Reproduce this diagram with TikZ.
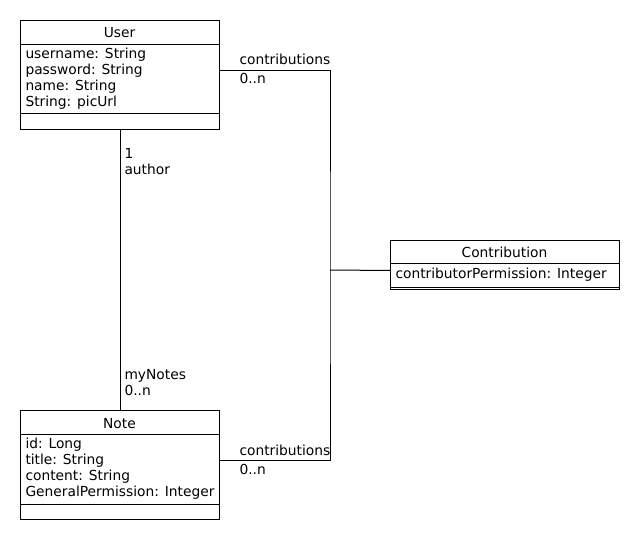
\documentclass[tikz,border=0pt]{standalone}
\usepackage{fontspec}
\setmainfont{DejaVu Sans}
\begin{document}
\begin{tikzpicture}[x=1pt, y=-1pt, line width=1pt,
        classbox/.style = {draw, rectangle,
            inner sep=0pt,
            anchor=north west,
            minimum width=199pt},
        txt/.style = {inner sep=0pt, font=\fontsize{13.8}{16}\selectfont},
        attr/.style = {txt, anchor=base west},
        title/.style = {txt, anchor=base}]

        \useasboundingbox (0,0) rectangle (640,540);

        % User class
        \node[classbox, minimum height=109pt] (user) at (20,20) {};
        \node[title] (userTitle) at (119.5,38) {User};
        \draw ([yshift=-25pt]user.north west) -- ([yshift=-25pt]user.north east);
        \draw ([yshift=16pt]user.south west) -- ([yshift=16pt]user.south east);
        \foreach \i/\t in {0/username: String, 1/password: String,
                2/name: String, 3/String: picUrl}
            \node[attr] (userAttr\i) at (25,58.5+16*\i) {\t};

        % Note class
        \node[classbox, minimum height=109pt] (note) at (20,410) {};
        \node[title] (noteTitle) at (119.5,428) {Note};
        \draw ([yshift=-24pt]note.north west) -- ([yshift=-24pt]note.north east);
        \draw ([yshift=16pt]note.south west) -- ([yshift=16pt]note.south east);
        \foreach \i/\t in {0/id: Long, 1/title: String,
                2/content: String, 3/GeneralPermission: Integer}
            \node[attr] (noteAttr\i) at (25,448.5+16*\i) {\t};

        % Contribution class
        \node[classbox, minimum width=229pt, minimum height=49pt] (contrib) at (390,240) {};
        \node[title] (contribTitle) at (504.5,258) {Contribution};
        \draw ([yshift=-24pt]contrib.north west) -- ([yshift=-24pt]contrib.north east);
        \draw ([yshift=2.5pt]contrib.south west) -- ([yshift=2.5pt]contrib.south east);
        \node[attr] (contribAttr) at (395,278.5) {contributorPermission: Integer};

        % User -- Note
        \draw (user.south) -- (note.north);
        \node[attr] (authorMult) at (124,159) {1};
        \node[attr] (authorRole) at (124,175) {author};
        \node[attr] (notesRole) at (124,379) {myNotes};
        \node[attr] (notesMult) at (124,395) {0..n};

        % contributions, with the association class
        \coordinate (mid) at (330,270);
        \draw ([yshift=4.5pt]user.east) -| (mid) |- ([yshift=4.5pt]note.east);
        \draw (mid) -- ([yshift=-5.5pt]contrib.west);
        \node[attr] (userContrib) at (239,65) {contributions};
        \node[attr] (userContribMult) at (239,84) {0..n};
        \node[attr] (noteContrib) at (239,455) {contributions};
        \node[attr] (noteContribMult) at (239,474) {0..n};

    \end{tikzpicture}
\end{document}
